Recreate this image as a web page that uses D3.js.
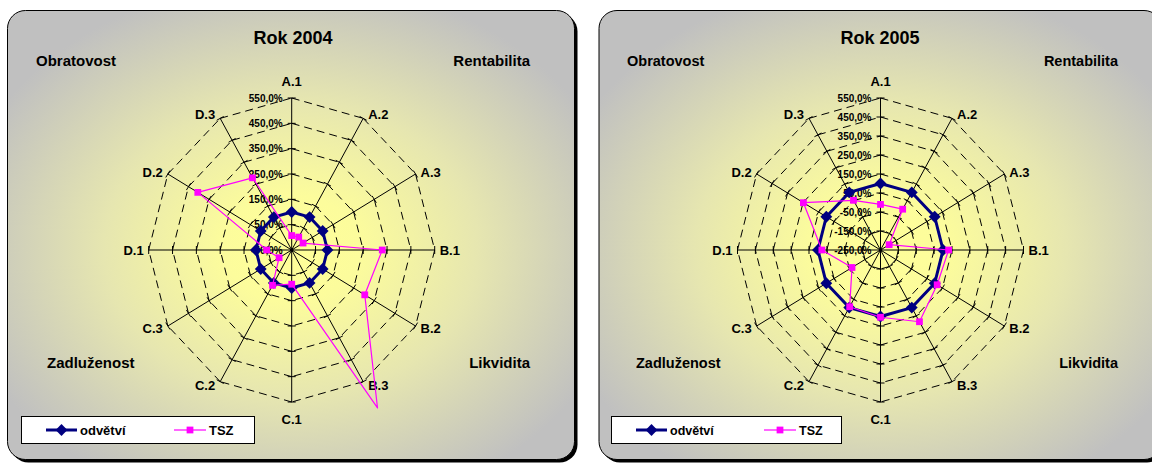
<!DOCTYPE html>
<html>
<head>
<meta charset="utf-8">
<script src="https://cdn.jsdelivr.net/npm/d3@7"></script>
<style>
  html, body { margin: 0; padding: 0; background: #ffffff; }
  svg { display: block; font-family: "Liberation Sans", Arial, sans-serif; }
</style>
</head>
<body>
<svg id="chart" width="1152" height="464"></svg>
<script>
// Radar categories (indicator codes), series names and group headings
const categories = ["A.1", "A.2", "A.3", "B.1", "B.2", "B.3", "C.1", "C.2", "C.3", "D.1", "D.2", "D.3"];
const seriesNames = ["odvětví", "TSZ"];
const groupLabels = ["Obratovost", "Rentabilita", "Zadluženost", "Likvidita"];

// Year 2004, values in %
const odvetvi2004 = [100, 100, 100, 100, 100, 100, 100, 100, 100, 100, 100, 100];
const tsz2004     = [7, 9, 5, 330, 304, 670, 85, 111, 11, 55, 405, 279];
const ticks2004   = [-50, 50, 150, 250, 350, 450, 550];

// Year 2005, values in %
const odvetvi2005 = [100, 100, 100, 100, 100, 100, 100, 100, 100, 100, 100, 100];
const tsz2005     = [-10, -2, -194, 131, 116, 186, 104, 95, -66, 78, 248, 52];
const ticks2005   = [-250, -150, -50, 50, 150, 250, 350, 450, 550];

const NAVY = "#000080";
const PINK = "#FF00FF";

const numFmt = d3.formatLocale({
  decimal: ",", thousands: "\u00a0", grouping: [3], currency: ["", "\u00a0Kč"], minus: "-"
}).format(".1f");
const pct = v => numFmt(v) + "%";

const svg = d3.select("#chart");
const defs = svg.append("defs");

const panels = [
  {
    id: "p2004", title: "Rok 2004", odv: odvetvi2004, tsz: tsz2004, ticks: ticks2004,
    box: { x: 7.5, y: 10.5, w: 567, h: 449 }, cx: 291.7, cy: 250, titleX: 293,
    corners: [[36, 66, "start"], [530, 66, "end"], [47, 368, "start"], [530, 368, "end"]],
    legend: { x: 21.5, y: 416.5, w: 233, h: 27 }, cornerFont: 15, legendFont: 13
  },
  {
    id: "p2005", title: "Rok 2005", odv: odvetvi2005, tsz: tsz2005, ticks: ticks2005,
    box: { x: 599, y: 10.5, w: 563, h: 449 }, cx: 880.5, cy: 250, titleX: 880,
    corners: [[627, 66, "start"], [1118, 66, "end"], [636, 368, "start"], [1118, 368, "end"]],
    legend: { x: 611.5, y: 416.5, w: 230, h: 27 }, cornerFont: 14.5, legendFont: 12.5
  }
];

const RX = 143, RY = 152;   // horizontal / vertical radius of the plot area

// angle of every category spoke, clockwise from the top
const angle = d3.scalePoint()
  .domain(categories)
  .range([0, 2 * Math.PI * (categories.length - 1) / categories.length]);

const diamond = d3.symbol(d3.symbolSquare, 70);
const square = d3.symbol(d3.symbolSquare, 46);

panels.forEach(p => {
  const g = svg.append("g").attr("class", p.id);
  const b = p.box;

  // background gradient: pale yellow in the middle fading to grey
  const grad = defs.append("radialGradient")
    .attr("id", "bg-" + p.id)
    .attr("cx", 0.5).attr("cy", 0.53).attr("r", 0.6);
  grad.append("stop").attr("offset", 0).attr("stop-color", "#FFFF99");
  grad.append("stop").attr("offset", 0.2).attr("stop-color", "#FCFC9C");
  grad.append("stop").attr("offset", 0.55).attr("stop-color", "#E6E6B0");
  grad.append("stop").attr("offset", 1).attr("stop-color", "#C0C0C0");

  // drop shadow + chart area
  g.append("rect")
    .attr("x", b.x + 3).attr("y", b.y + 3).attr("width", b.w).attr("height", b.h)
    .attr("rx", 18).attr("ry", 18).attr("fill", "#000");
  g.append("rect")
    .attr("x", b.x).attr("y", b.y).attr("width", b.w).attr("height", b.h)
    .attr("rx", 18).attr("ry", 18)
    .attr("fill", "url(#bg-" + p.id + ")")
    .attr("stroke", "#000").attr("stroke-width", 1);

  const rMin = p.ticks[0], rMax = p.ticks[p.ticks.length - 1];
  const radius = d3.scaleLinear().domain([rMin, rMax]).range([0, 1]);
  const pos = (cat, v) => {
    const a = angle(cat), f = radius(v);
    return [p.cx + f * RX * Math.sin(a), p.cy - f * RY * Math.cos(a)];
  };

  // dashed polygon gridlines, one segment per pair of neighbouring spokes
  const grid = g.append("g").attr("stroke", "#000").attr("stroke-width", 1)
    .attr("stroke-dasharray", "8,5").attr("fill", "none");
  p.ticks.slice(1).forEach(t => {
    categories.forEach((c, i) => {
      const a = pos(c, t), n = pos(categories[(i + 1) % categories.length], t);
      grid.append("line").attr("x1", a[0]).attr("y1", a[1]).attr("x2", n[0]).attr("y2", n[1]);
    });
  });

  // spokes with tick marks
  const spokes = g.append("g").attr("stroke", "#000").attr("stroke-width", 1);
  categories.forEach(c => {
    const e = pos(c, rMax);
    spokes.append("line").attr("x1", p.cx).attr("y1", p.cy).attr("x2", e[0]).attr("y2", e[1]);
    const dx = e[0] - p.cx, dy = e[1] - p.cy, len = Math.hypot(dx, dy);
    const nx = -dy / len, ny = dx / len;
    p.ticks.slice(1).forEach(t => {
      const q = pos(c, t);
      spokes.append("line")
        .attr("x1", q[0] - 4 * nx).attr("y1", q[1] - 4 * ny)
        .attr("x2", q[0] + 4 * nx).attr("y2", q[1] + 4 * ny);
    });
  });
  g.append("circle").attr("cx", p.cx).attr("cy", p.cy).attr("r", 1.8).attr("fill", "#000");

  // value axis labels along the first spoke
  g.append("g").attr("font-size", 10).attr("font-weight", "bold").attr("text-anchor", "end")
    .selectAll("text").data(p.ticks).join("text")
    .attr("x", p.cx - 9)
    .attr("y", d => pos(categories[0], d)[1] + 3.5)
    .text(d => pct(d));

  // category labels at the spoke ends
  g.append("g").attr("font-size", 13).attr("font-weight", "bold")
    .selectAll("text").data(categories).join("text")
    .each(function (c) {
      const a = angle(c), s = Math.sin(a), co = Math.cos(a), e = pos(c, rMax);
      const t = d3.select(this);
      if (Math.abs(s) < 1e-6) {
        t.attr("text-anchor", "middle").attr("x", e[0]).attr("y", e[1] - co * 17 + 4.5);
      } else {
        t.attr("text-anchor", s > 0 ? "start" : "end")
          .attr("x", e[0] + (s > 0 ? 5 : -5))
          .attr("y", e[1] - 4 * co + 4.5);
      }
    })
    .text(c => c);

  // title and group headings
  g.append("text").attr("x", p.titleX).attr("y", 44)
    .attr("text-anchor", "middle").attr("font-size", 18).attr("font-weight", "bold")
    .text(p.title);
  g.append("g").attr("font-size", p.cornerFont).attr("font-weight", "bold")
    .selectAll("text").data(groupLabels).join("text")
    .attr("x", (d, i) => p.corners[i][0])
    .attr("y", (d, i) => p.corners[i][1])
    .attr("text-anchor", (d, i) => p.corners[i][2])
    .text(d => d);

  // series
  const line = d3.line().curve(d3.curveLinearClosed);
  const drawSeries = (vals, color, width, sym) => {
    const pts = categories.map((c, i) => pos(c, vals[i]));
    g.append("path").attr("d", line(pts)).attr("fill", "none")
      .attr("stroke", color).attr("stroke-width", width).attr("stroke-linejoin", "round");
    g.append("g").selectAll("path")
      .data(categories.map((c, i) => ({ c, v: vals[i] })).filter(d => d.v <= rMax))
      .join("path")
      .attr("transform", d => {
        const q = pos(d.c, d.v);
        return `translate(${q[0]},${q[1]})` + (sym === diamond ? " rotate(45)" : "");
      })
      .attr("d", sym()).attr("fill", color);
  };
  drawSeries(p.odv, NAVY, 3, diamond);
  drawSeries(p.tsz, PINK, 1.2, square);

  // legend
  const L = p.legend, ly = L.y + L.h / 2;
  const lg = g.append("g");
  lg.append("rect").attr("x", L.x).attr("y", L.y).attr("width", L.w).attr("height", L.h)
    .attr("fill", "#fff").attr("stroke", "#000").attr("stroke-width", 1);
  const items = [
    { name: seriesNames[0], color: NAVY, w: 3, sym: diamond, x0: 24.5, x1: 55.5, tx: 58.5 },
    { name: seriesNames[1], color: PINK, w: 1.2, sym: square, x0: 152.5, x1: 184.5, tx: 187.5 }
  ];
  items.forEach(it => {
    lg.append("line").attr("x1", L.x + it.x0).attr("x2", L.x + it.x1)
      .attr("y1", ly).attr("y2", ly).attr("stroke", it.color).attr("stroke-width", it.w);
    lg.append("path")
      .attr("transform", `translate(${L.x + (it.x0 + it.x1) / 2},${ly})` + (it.sym === diamond ? " rotate(45)" : ""))
      .attr("d", it.sym()).attr("fill", it.color);
    lg.append("text").attr("x", L.x + it.tx).attr("y", ly + 4.5)
      .attr("font-size", p.legendFont).attr("font-weight", "bold").text(it.name);
  });
});
</script>
</body>
</html>
